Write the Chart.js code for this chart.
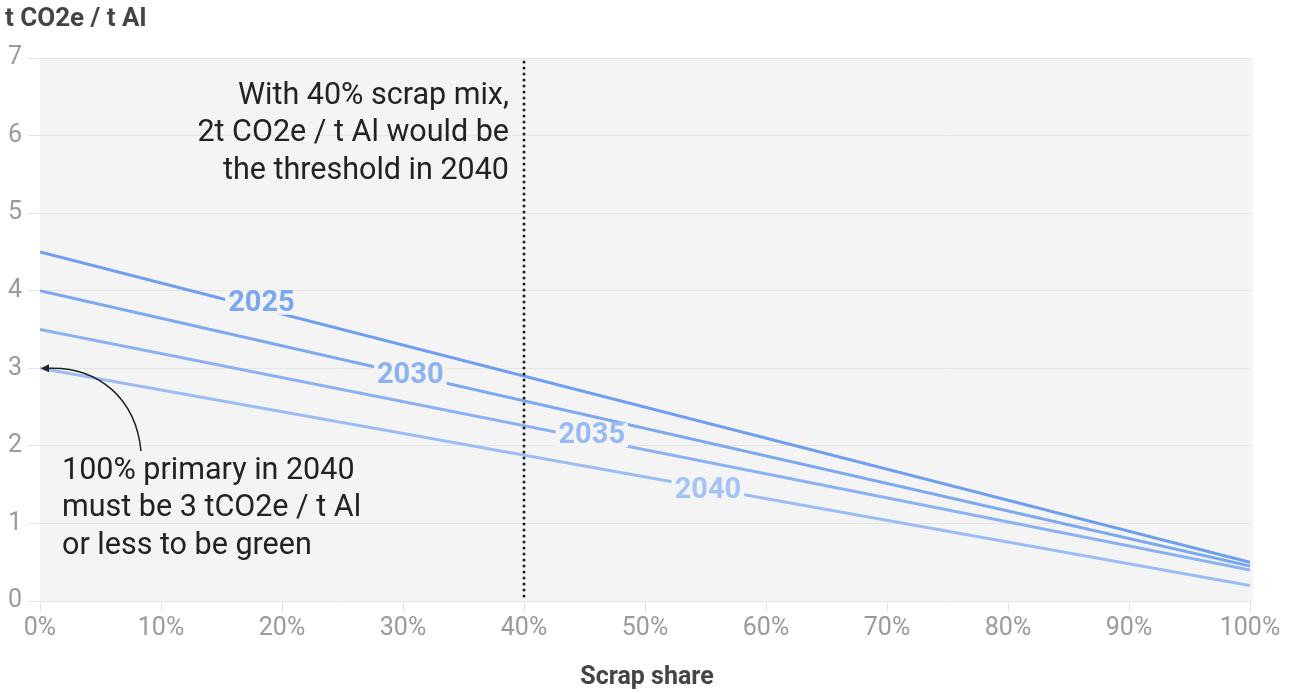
<!DOCTYPE html>
<html>
<head>
<meta charset="utf-8">
<script src="https://cdn.jsdelivr.net/npm/chart.js@4.4.1/dist/chart.umd.min.js"></script>
<style>
  html, body { margin: 0; padding: 0; background: #ffffff; }
  #wrap { width: 1298px; height: 693px; position: relative; }
</style>
</head>
<body>
<div id="wrap"><canvas id="c" width="1298" height="693"></canvas></div>
<script>
// Scrap share (%) at the ends of each pathway
const scrapShare = [0, 100];
// Emission thresholds, t CO2e per t Al, by year
const years = ['2025', '2030', '2035', '2040'];
const values2025 = [4.5, 0.5];
const values2030 = [4.0, 0.45];
const values2035 = [3.5, 0.4];
const values2040 = [3.0, 0.2];
const yTicks = [0, 1, 2, 3, 4, 5, 6, 7];
const xTicks = [0, 10, 20, 30, 40, 50, 60, 70, 80, 90, 100];
const scrapMarker = 40;

const lineColors = ['#6e9ef1', '#7ca8f2', '#8ab1f4', '#9bbcf5'];
const labelColors = ['#7aa7f2', '#8bb2f4', '#97baf5', '#a5c3f6'];
const FONT = 'Roboto, "Open Sans", sans-serif';
const PLOT_BG = '#f4f4f4';

const seriesValues = [values2025, values2030, values2035, values2040];
const datasets = seriesValues.map((vals, i) => ({
  label: years[i],
  data: vals.map((v, k) => ({ x: scrapShare[k], y: v })),
  borderColor: lineColors[i],
  borderWidth: 3,
  pointRadius: 0,
  tension: 0,
  fill: false
}));

const decorations = {
  id: 'decorations',
  beforeDraw(chart) {
    const { ctx, chartArea: a } = chart;
    ctx.save();
    ctx.fillStyle = PLOT_BG;
    ctx.fillRect(a.left, a.top, a.right - a.left + 3, a.bottom - a.top);
    ctx.restore();
  },
  afterDatasetsDraw(chart, args, opts) {
    const { ctx, scales: { x, y } } = chart;
    ctx.save();

    // line labels, set on the lines with a gap cut behind them
    ctx.font = 'bold 29px ' + FONT;
    ctx.textAlign = 'center';
    ctx.textBaseline = 'middle';
    opts.labelAt.forEach((share, i) => {
      const pts = chart.getDatasetMeta(i).data;
      const p0 = pts[0], p1 = pts[pts.length - 1];
      const px = x.getPixelForValue(share);
      const t = (px - p0.x) / (p1.x - p0.x);
      const py = p0.y + t * (p1.y - p0.y) + opts.labelDy[i];
      const w = ctx.measureText(years[i]).width;
      ctx.fillStyle = PLOT_BG;
      ctx.fillRect(px - w / 2 - 3, py - 12, w + 6, 24);
      ctx.fillStyle = labelColors[i];
      ctx.fillText(years[i], px, py + 1);
    });

    // dotted marker at the 40% scrap mix
    const mx = x.getPixelForValue(scrapMarker);
    ctx.strokeStyle = '#1e1e1e';
    ctx.lineWidth = 3;
    ctx.lineCap = 'round';
    ctx.setLineDash([0, 6]);
    ctx.beginPath();
    ctx.moveTo(mx, y.getPixelForValue(6.95));
    ctx.lineTo(mx, y.bottom);
    ctx.stroke();
    ctx.setLineDash([]);

    // annotations
    ctx.fillStyle = '#222222';
    ctx.font = '30.5px ' + FONT;
    ctx.textBaseline = 'middle';
    ctx.textAlign = 'right';
    const noteA = ['With 40% scrap mix,', '2t CO2e / t Al would be', 'the threshold in 2040'];
    noteA.forEach((s, k) => ctx.fillText(s, mx - 15, 96 + k * 37.5));
    ctx.textAlign = 'left';
    const noteB = ['100% primary in 2040', 'must be 3 tCO2e / t Al', 'or less to be green'];
    noteB.forEach((s, k) => ctx.fillText(s, 62, 471 + k * 37.5));

    // curved arrow to the 2040 start point
    const ax = x.getPixelForValue(0) + 3, ay = y.getPixelForValue(3);
    ctx.strokeStyle = '#222222';
    ctx.lineWidth = 1.5;
    ctx.lineCap = 'butt';
    ctx.beginPath();
    ctx.moveTo(141, 451);
    ctx.bezierCurveTo(136, 400, 100, 366, ax + 4, ay);
    ctx.stroke();
    ctx.fillStyle = '#222222';
    ctx.beginPath();
    ctx.moveTo(ax - 2, ay);
    ctx.lineTo(ax + 6, ay - 4);
    ctx.lineTo(ax + 6, ay + 4);
    ctx.closePath();
    ctx.fill();

    // axis titles
    ctx.fillStyle = '#444444';
    ctx.font = 'bold 26px ' + FONT;
    ctx.textAlign = 'left';
    ctx.fillText('t CO2e / t Al', 5, 19);
    ctx.font = 'bold 25px ' + FONT;
    ctx.textAlign = 'center';
    ctx.fillText('Scrap share', (x.left + x.right) / 2 + 2, 678);
    ctx.restore();
  }
};

new Chart(document.getElementById('c'), {
  type: 'line',
  data: { datasets },
  options: {
    responsive: false,
    devicePixelRatio: 1,
    animation: false,
    layout: { padding: { top: 58, right: 48, bottom: 32, left: 0 } },
    plugins: {
      legend: { display: false },
      tooltip: { enabled: false },
      decorations: {
        labelAt: [18.3, 30.6, 45.6, 55.2],
        labelDy: [-6, 0, -4, 2]
      }
    },
    scales: {
      x: {
        type: 'linear',
        min: 0,
        max: 100,
        afterFit(s) { s.height = 60; },
        afterBuildTicks(s) { s.ticks = xTicks.map(v => ({ value: v })); },
        border: { display: false },
        grid: { drawOnChartArea: false, drawTicks: true, tickLength: 11, color: '#e4e4e4' },
        ticks: {
          padding: 2,
          color: '#9a9a9a',
          font: { family: FONT, size: 25 },
          maxRotation: 0,
          callback: v => v + '%'
        }
      },
      y: {
        min: 0,
        max: 7,
        afterFit(s) { s.width = 40; },
        afterBuildTicks(s) { s.ticks = yTicks.map(v => ({ value: v })); },
        border: { display: false },
        grid: { color: '#e6e4e4', tickLength: 12, lineWidth: 1 },
        ticks: {
          padding: 6,
          color: '#9a9a9a',
          font: { family: FONT, size: 25 }
        }
      }
    }
  },
  plugins: [decorations]
});
</script>
</body>
</html>
